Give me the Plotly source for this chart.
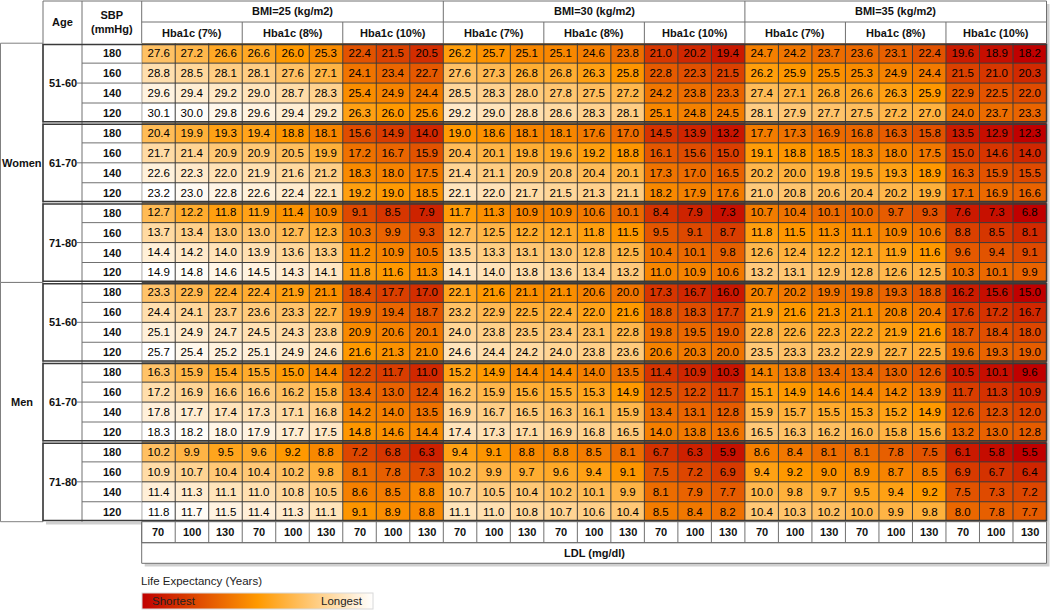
import numpy as np
import plotly.graph_objects as go

W, H = 1050, 610

sexes = ["Women", "Men"]
age_groups = ["51-60", "61-70", "71-80"]
sbp_levels = ["180", "160", "140", "120"]
bmi_groups = ["BMI=25 (kg/m2)", "BMI=30 (kg/m2)", "BMI=35 (kg/m2)"]
hba1c_groups = ["Hba1c (7%)", "Hba1c (8%)", "Hba1c (10%)"]
ldl_levels = ["70", "100", "130"]
ldl_title = "LDL (mg/dl)"
legend_title = "Life Expectancy (Years)"

# rows: SBP 180,160,140,120 ; columns: BMI25[Hb7,Hb8,Hb10 x LDL70,100,130], BMI30[...], BMI35[...]
women_51_60 = [
    [27.6, 27.2, 26.6, 26.6, 26.0, 25.3, 22.4, 21.5, 20.5, 26.2, 25.7, 25.1, 25.1, 24.6, 23.8, 21.0, 20.2, 19.4, 24.7, 24.2, 23.7, 23.6, 23.1, 22.4, 19.6, 18.9, 18.2],
    [28.8, 28.5, 28.1, 28.1, 27.6, 27.1, 24.1, 23.4, 22.7, 27.6, 27.3, 26.8, 26.8, 26.3, 25.8, 22.8, 22.3, 21.5, 26.2, 25.9, 25.5, 25.3, 24.9, 24.4, 21.5, 21.0, 20.3],
    [29.6, 29.4, 29.2, 29.0, 28.7, 28.3, 25.4, 24.9, 24.4, 28.5, 28.3, 28.0, 27.8, 27.5, 27.2, 24.2, 23.8, 23.3, 27.4, 27.1, 26.8, 26.6, 26.3, 25.9, 22.9, 22.5, 22.0],
    [30.1, 30.0, 29.8, 29.6, 29.4, 29.2, 26.3, 26.0, 25.6, 29.2, 29.0, 28.8, 28.6, 28.3, 28.1, 25.1, 24.8, 24.5, 28.1, 27.9, 27.7, 27.5, 27.2, 27.0, 24.0, 23.7, 23.3],
]
women_61_70 = [
    [20.4, 19.9, 19.3, 19.4, 18.8, 18.1, 15.6, 14.9, 14.0, 19.0, 18.6, 18.1, 18.1, 17.6, 17.0, 14.5, 13.9, 13.2, 17.7, 17.3, 16.9, 16.8, 16.3, 15.8, 13.5, 12.9, 12.3],
    [21.7, 21.4, 20.9, 20.9, 20.5, 19.9, 17.2, 16.7, 15.9, 20.4, 20.1, 19.8, 19.6, 19.2, 18.8, 16.1, 15.6, 15.0, 19.1, 18.8, 18.5, 18.3, 18.0, 17.5, 15.0, 14.6, 14.0],
    [22.6, 22.3, 22.0, 21.9, 21.6, 21.2, 18.3, 18.0, 17.5, 21.4, 21.1, 20.9, 20.8, 20.4, 20.1, 17.3, 17.0, 16.5, 20.2, 20.0, 19.8, 19.5, 19.3, 18.9, 16.3, 15.9, 15.5],
    [23.2, 23.0, 22.8, 22.6, 22.4, 22.1, 19.2, 19.0, 18.5, 22.1, 22.0, 21.7, 21.5, 21.3, 21.1, 18.2, 17.9, 17.6, 21.0, 20.8, 20.6, 20.4, 20.2, 19.9, 17.1, 16.9, 16.6],
]
women_71_80 = [
    [12.7, 12.2, 11.8, 11.9, 11.4, 10.9, 9.1, 8.5, 7.9, 11.7, 11.3, 10.9, 10.9, 10.6, 10.1, 8.4, 7.9, 7.3, 10.7, 10.4, 10.1, 10.0, 9.7, 9.3, 7.6, 7.3, 6.8],
    [13.7, 13.4, 13.0, 13.0, 12.7, 12.3, 10.3, 9.9, 9.3, 12.7, 12.5, 12.2, 12.1, 11.8, 11.5, 9.5, 9.1, 8.7, 11.8, 11.5, 11.3, 11.1, 10.9, 10.6, 8.8, 8.5, 8.1],
    [14.4, 14.2, 14.0, 13.9, 13.6, 13.3, 11.2, 10.9, 10.5, 13.5, 13.3, 13.1, 13.0, 12.8, 12.5, 10.4, 10.1, 9.8, 12.6, 12.4, 12.2, 12.1, 11.9, 11.6, 9.6, 9.4, 9.1],
    [14.9, 14.8, 14.6, 14.5, 14.3, 14.1, 11.8, 11.6, 11.3, 14.1, 14.0, 13.8, 13.6, 13.4, 13.2, 11.0, 10.9, 10.6, 13.2, 13.1, 12.9, 12.8, 12.6, 12.5, 10.3, 10.1, 9.9],
]
men_51_60 = [
    [23.3, 22.9, 22.4, 22.4, 21.9, 21.1, 18.4, 17.7, 17.0, 22.1, 21.6, 21.1, 21.1, 20.6, 20.0, 17.3, 16.7, 16.0, 20.7, 20.2, 19.9, 19.8, 19.3, 18.8, 16.2, 15.6, 15.0],
    [24.4, 24.1, 23.7, 23.6, 23.3, 22.7, 19.9, 19.4, 18.7, 23.2, 22.9, 22.5, 22.4, 22.0, 21.6, 18.8, 18.3, 17.7, 21.9, 21.6, 21.3, 21.1, 20.8, 20.4, 17.6, 17.2, 16.7],
    [25.1, 24.9, 24.7, 24.5, 24.3, 23.8, 20.9, 20.6, 20.1, 24.0, 23.8, 23.5, 23.4, 23.1, 22.8, 19.8, 19.5, 19.0, 22.8, 22.6, 22.3, 22.2, 21.9, 21.6, 18.7, 18.4, 18.0],
    [25.7, 25.4, 25.2, 25.1, 24.9, 24.6, 21.6, 21.3, 21.0, 24.6, 24.4, 24.2, 24.0, 23.8, 23.6, 20.6, 20.3, 20.0, 23.5, 23.3, 23.2, 22.9, 22.7, 22.5, 19.6, 19.3, 19.0],
]
men_61_70 = [
    [16.3, 15.9, 15.4, 15.5, 15.0, 14.4, 12.2, 11.7, 11.0, 15.2, 14.9, 14.4, 14.4, 14.0, 13.5, 11.4, 10.9, 10.3, 14.1, 13.8, 13.4, 13.4, 13.0, 12.6, 10.5, 10.1, 9.6],
    [17.2, 16.9, 16.6, 16.6, 16.2, 15.8, 13.4, 13.0, 12.4, 16.2, 15.9, 15.6, 15.5, 15.3, 14.9, 12.5, 12.2, 11.7, 15.1, 14.9, 14.6, 14.4, 14.2, 13.9, 11.7, 11.3, 10.9],
    [17.8, 17.7, 17.4, 17.3, 17.1, 16.8, 14.2, 14.0, 13.5, 16.9, 16.7, 16.5, 16.3, 16.1, 15.9, 13.4, 13.1, 12.8, 15.9, 15.7, 15.5, 15.3, 15.2, 14.9, 12.6, 12.3, 12.0],
    [18.3, 18.2, 18.0, 17.9, 17.7, 17.5, 14.8, 14.6, 14.4, 17.4, 17.3, 17.1, 16.9, 16.8, 16.5, 14.0, 13.8, 13.6, 16.5, 16.3, 16.2, 16.0, 15.8, 15.6, 13.2, 13.0, 12.8],
]
men_71_80 = [
    [10.2, 9.9, 9.5, 9.6, 9.2, 8.8, 7.2, 6.8, 6.3, 9.4, 9.1, 8.8, 8.8, 8.5, 8.1, 6.7, 6.3, 5.9, 8.6, 8.4, 8.1, 8.1, 7.8, 7.5, 6.1, 5.8, 5.5],
    [10.9, 10.7, 10.4, 10.4, 10.2, 9.8, 8.1, 7.8, 7.3, 10.2, 9.9, 9.7, 9.6, 9.4, 9.1, 7.5, 7.2, 6.9, 9.4, 9.2, 9.0, 8.9, 8.7, 8.5, 6.9, 6.7, 6.4],
    [11.4, 11.3, 11.1, 11.0, 10.8, 10.5, 8.6, 8.5, 8.8, 10.7, 10.5, 10.4, 10.2, 10.1, 9.9, 8.1, 7.9, 7.7, 10.0, 9.8, 9.7, 9.5, 9.4, 9.2, 7.5, 7.3, 7.2],
    [11.8, 11.7, 11.5, 11.4, 11.3, 11.1, 9.1, 8.9, 8.8, 11.1, 11.0, 10.8, 10.7, 10.6, 10.4, 8.5, 8.4, 8.2, 10.4, 10.3, 10.2, 10.0, 9.9, 9.8, 8.0, 7.8, 7.7],
]

blocks = [women_51_60, women_61_70, women_71_80, men_51_60, men_61_70, men_71_80]
values = np.array([row for blk in blocks for row in blk], dtype=float)
n_rows, n_cols = values.shape

# 3-colour scale (min / 50th percentile / max) applied within each sex x age block
zc = np.zeros_like(values)
for b in range(len(blocks)):
    blk = values[4 * b:4 * b + 4]
    lo, mid, hi = blk.min(), np.median(blk), blk.max()
    t = np.where(blk <= mid, 0.5 * (blk - lo) / (mid - lo), 0.5 + 0.5 * (blk - mid) / (hi - mid))
    zc[4 * b:4 * b + 4] = t
text = [[f"{v:.1f}" for v in row] for row in values]

FONT = "Liberation Sans, Arial, sans-serif"
X0, X1 = 141.7, 1046.5
Y0, Y1 = 43.2, 521.7
col_w = (X1 - X0) / n_cols
row_h = (Y1 - Y0) / n_rows


def px(x):
    return x / W


def py(y):
    return 1 - y / H


colorscale = [[0.0, "#C00000"], [0.5, "#FF9900"], [1.0, "#FFFFFF"]]

fig = go.Figure(go.Heatmap(
    z=zc, x=list(range(n_cols)), y=list(range(n_rows)),
    text=text, texttemplate="%{text}",
    textfont=dict(family=FONT, size=11.5, color="black"),
    colorscale=colorscale, zmin=0, zmax=1, hoverinfo="skip",
    colorbar=dict(orientation="h", x=px(141.7), xanchor="left", y=py(592.5), yanchor="top",
                  len=(372.5 - 141.7) / W, lenmode="fraction", thickness=16, thicknessmode="pixels",
                  showticklabels=False, ticks="", outlinewidth=1, outlinecolor="#d8d8d8",
                  xpad=0, ypad=0),
))

shapes = []
ann = []

GRID = "#3c3c3c"
HDR = "#707070"


def pline(x0, y0, x1, y1, color=HDR, width=1, layer="above"):
    shapes.append(dict(type="line", xref="paper", yref="paper", x0=px(x0), y0=py(y0), x1=px(x1), y1=py(y1),
                       line=dict(color=color, width=width), layer=layer))


def prect(x0, y0, x1, y1, fill=None, color=HDR, width=1, layer="above"):
    d = dict(type="rect", xref="paper", yref="paper", x0=px(x0), y0=py(y0), x1=px(x1), y1=py(y1),
             line=dict(color=color, width=width), layer=layer)
    if fill:
        d["fillcolor"] = fill
    shapes.append(d)


def label(x, y, s, size=11, bold=True, anchor="center", color="#111"):
    ann.append(dict(x=px(x), y=py(y), xref="paper", yref="paper", text=f"<b>{s}</b>" if bold else s,
                    showarrow=False, xanchor=anchor, yanchor="middle",
                    font=dict(family=FONT, size=size, color=color)))


# shadows and white table background
prect(46, 4, 1049.5, 524.5, fill="#cfcfcf", color="rgba(0,0,0,0)", width=0, layer="below")
prect(X0 + 3, 524, 1049.5, 566.5, fill="#cfcfcf", color="rgba(0,0,0,0)", width=0, layer="below")
prect(43, 1, X1, Y1, fill="white", color="rgba(0,0,0,0)", width=0, layer="below")
prect(0, Y0, 43, Y1, fill="white", color="rgba(0,0,0,0)", width=0, layer="below")
prect(X0, Y1, X1, 563.3, fill="white", color="rgba(0,0,0,0)", width=0, layer="below")

# data grid lines
for i in range(n_cols + 1):
    shapes.append(dict(type="line", xref="x", yref="y", x0=i - 0.5, x1=i - 0.5, y0=-0.5, y1=n_rows - 0.5,
                       line=dict(color=GRID, width=1), layer="above"))
for j in range(n_rows + 1):
    shapes.append(dict(type="line", xref="x", yref="y", x0=-0.5, x1=n_cols - 0.5, y0=j - 0.5, y1=j - 0.5,
                       line=dict(color=GRID, width=1), layer="above"))

# header
pline(43, 1, X1, 1)
pline(X0, 22, X1, 22)
for xx in (43, 82, X0, X1):
    pline(xx, 1, xx, Y0)
for k in range(1, 9):
    xx = X0 + 3 * k * col_w
    pline(xx, 1 if k % 3 == 0 else 22, xx, Y0)
label(62.5, 22, "Age")
label(112, 22, "SBP<br>(mmHg)")
for g, name in enumerate(bmi_groups):
    label(X0 + (9 * g + 4.5) * col_w, 11.5, name)
    for h, hname in enumerate(hba1c_groups):
        label(X0 + (9 * g + 3 * h + 1.5) * col_w, 33, hname)

# left side: sex, age, SBP
for s, sname in enumerate(sexes):
    top = Y0 + 12 * s * row_h
    bot = Y0 + 12 * (s + 1) * row_h
    prect(0.5, top, 43, bot, color="#808080")
    label(21.5, (top + bot) / 2, sname)
    for a, aname in enumerate(age_groups):
        b = 3 * s + a
        btop = Y0 + 4 * b * row_h
        label(62.5, btop + 2 * row_h, aname)
        pline(77, btop + 2 * row_h, 82, btop + 2 * row_h, color=HDR)
        for r, sbp in enumerate(sbp_levels):
            label(111.5, btop + (r + 0.5) * row_h, sbp)
            if r > 0:
                pline(82, btop + r * row_h, X0, btop + r * row_h, color=HDR)
pline(82, Y0, 82, Y1, color=HDR)

# double-line block frames
for b in range(len(blocks)):
    btop = Y0 + 4 * b * row_h
    prect(43, btop + 1.2, X1, btop + 4 * row_h - 1.2, color="#3a3a3a", width=1.5)

# bottom LDL rows
prect(X0, Y1, X1, 542.7)
prect(X0, 542.7, X1, 563.3)
for i in range(n_cols):
    pline(X0 + i * col_w, Y1, X0 + i * col_w, 542.7)
    label(X0 + (i + 0.5) * col_w, 532.2, ldl_levels[i % 3])
label((X0 + X1) / 2, 553, ldl_title)

# legend text
label(139, 581, legend_title, size=11.5, bold=False, anchor="left", color="#222")
label(150, 601, "Shortest", size=11.5, bold=False, anchor="left", color="#222")
label(365, 601, "Longest", size=11.5, bold=False, anchor="right", color="#222")

fig.update_layout(
    width=W, height=H,
    margin=dict(l=0, r=0, t=0, b=0, pad=0),
    paper_bgcolor="white", plot_bgcolor="white",
    xaxis=dict(domain=[px(X0), px(X1)], range=[-0.5, n_cols - 0.5], visible=False, fixedrange=True),
    yaxis=dict(domain=[py(Y1), py(Y0)], range=[n_rows - 0.5, -0.5], visible=False, fixedrange=True),
    shapes=shapes, annotations=ann, showlegend=False,
)

fig.write_html("out.html", config={"displayModeBar": False},
               post_script="document.body.style.margin='0';document.body.style.overflow='hidden';")
